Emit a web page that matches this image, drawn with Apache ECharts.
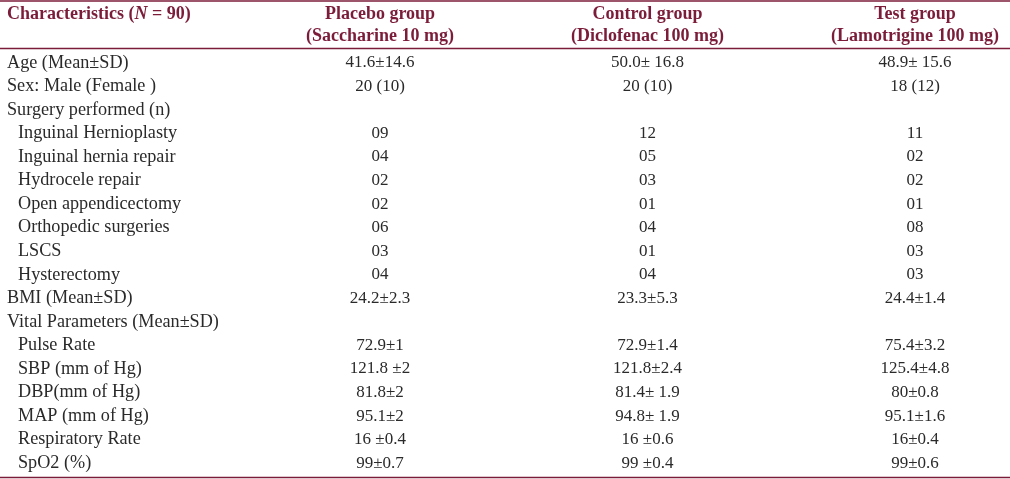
<!DOCTYPE html>
<html>
<head>
<meta charset="utf-8">
<script src="https://cdn.jsdelivr.net/npm/echarts@6/dist/echarts.min.js"></script>
<style>
html,body{margin:0;padding:0;background:#fff;}
#chart{width:1010px;height:479px;}
</style>
</head>
<body>
<div id="chart"></div>
<script>
// ---- data ----
const rowLabels = [
  'Age (Mean±SD)', 'Sex: Male (Female )', 'Surgery performed (n)',
  'Inguinal Hernioplasty', 'Inguinal hernia repair', 'Hydrocele repair',
  'Open appendicectomy', 'Orthopedic surgeries', 'LSCS', 'Hysterectomy',
  'BMI (Mean±SD)', 'Vital Parameters (Mean±SD)',
  'Pulse Rate', 'SBP (mm of Hg)', 'DBP(mm of Hg)', 'MAP (mm of Hg)',
  'Respiratory Rate', 'SpO2 (%)'
];
const rowIndent = [0,0,0,1,1,1,1,1,1,1,0,0,1,1,1,1,1,1];
const groupNames = ['Placebo group', 'Control group', 'Test group'];
const groupDrugs = ['(Saccharine 10 mg)', '(Diclofenac 100 mg)', '(Lamotrigine 100 mg)'];
const headerTitle = 'Characteristics';
const headerN = '90';
const placebo = ['41.6±14.6','20 (10)','','09','04','02','02','06','03','04','24.2±2.3','','72.9±1','121.8 ±2','81.8±2','95.1±2','16 ±0.4','99±0.7'];
const control = ['50.0± 16.8','20 (10)','','12','05','03','01','04','01','04','23.3±5.3','','72.9±1.4','121.8±2.4','81.4± 1.9','94.8± 1.9','16 ±0.6','99 ±0.4'];
const test    = ['48.9± 15.6','18 (12)','','11','02','02','01','08','03','03','24.4±1.4','','75.4±3.2','125.4±4.8','80±0.8','95.1±1.6','16±0.4','99±0.6'];
const groupValues = [placebo, control, test];

// ---- styles ----
const FONT = 'Liberation Serif';
const MAROON = '#7b1d3a';
const BODY = '#2a2a2a';

const chart = echarts.init(document.getElementById('chart'), null, {renderer: 'canvas'});

const series = groupValues.map((vals, g) => ({
  type: 'scatter',
  symbol: 'circle',
  symbolSize: 1,
  itemStyle: {color: 'rgba(255,255,255,0)'},
  silent: true,
  data: vals.map((s, i) => ({value: [g, i], name: s})).filter(d => d.name !== ''),
  label: {
    show: true,
    position: 'inside',
    formatter: '{b}',
    fontFamily: FONT,
    fontSize: 17,
    color: BODY,
    opacity: 1
  }
}));

const rule = (y) => ({
  type: 'line',
  shape: {x1: 0, y1: y, x2: 1010, y2: y},
  style: {stroke: MAROON, lineWidth: 1.6},
  silent: true
});

chart.setOption({
  animation: false,
  backgroundColor: '#fff',
  title: {
    left: 7, top: 3, padding: 0,
    text: '{t|' + headerTitle + ' (}{n|N}{t| = ' + headerN + ')}',
    textStyle: {
      rich: {
        t: {fontFamily: FONT, fontSize: 18, fontWeight: 'bold', color: MAROON, lineHeight: 22},
        n: {fontFamily: FONT, fontSize: 18, fontWeight: 'bold', fontStyle: 'italic', color: MAROON, lineHeight: 22}
      }
    }
  },
  grid: {left: 380, right: 95, top: 51, bottom: 4},
  xAxis: {
    type: 'category',
    position: 'top',
    data: groupNames,
    boundaryGap: false,
    axisLine: {show: false},
    axisTick: {show: false},
    splitLine: {show: false},
    axisLabel: {
      margin: 4,
      interval: 0,
      formatter: (v, i) => '{h|' + groupNames[i] + '}\n{h|' + groupDrugs[i] + '}',
      rich: {
        h: {fontFamily: FONT, fontSize: 18, fontWeight: 'bold', color: MAROON, lineHeight: 22, align: 'center'}
      }
    }
  },
  yAxis: {
    type: 'category',
    inverse: true,
    data: rowLabels,
    axisLine: {show: false},
    axisTick: {show: false},
    splitLine: {show: false},
    axisLabel: {
      interval: 0,
      align: 'left',
      margin: 373,
      formatter: (v, i) => rowIndent[i] ? '{i|' + v + '}' : '{a|' + v + '}',
      rich: {
        a: {fontFamily: FONT, fontSize: 18.2, color: BODY},
        i: {fontFamily: FONT, fontSize: 18.2, color: BODY, padding: [0, 0, 0, 11]}
      }
    }
  },
  series: series,
  graphic: [rule(1), rule(48.5), rule(477.5)]
});
</script>
</body>
</html>
